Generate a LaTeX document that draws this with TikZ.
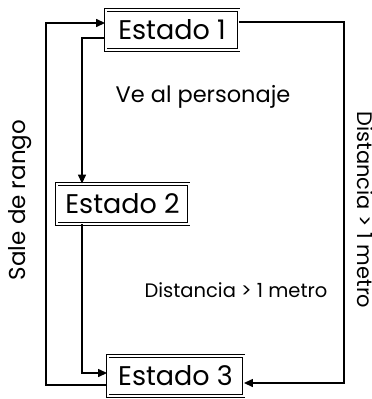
\documentclass[tikz,border=0pt]{standalone}
\usepackage{fontspec}
\setmainfont{Poppins}
\usetikzlibrary{arrows.meta,calc}
\begin{document}
\begin{tikzpicture}[x=1pt,y=-1pt,
  state/.style={draw,double,line width=0.9pt,double distance=2pt,inner sep=0pt,
    font=\fontsize{27}{30}\selectfont,minimum height=40pt},
  conn/.style={line width=1.4pt},
  arr/.style={conn,-{Triangle[length=9pt,width=8pt]}},
  lbl/.style={inner sep=0pt}]
\useasboundingbox (0,0) rectangle (372,399);
\node[state,minimum width=133pt] (e1) at (172,30) {Estado 1};
\node[state,minimum width=132pt] (e2) at (122.5,204) {Estado 2};
\node[state,minimum width=136pt] (e3) at (175.5,376) {Estado 3};
\coordinate (R) at (344,0);
\coordinate (L) at (46,0);
\coordinate (M) at (82,0);
\coordinate (e1r) at ([yshift=8pt]e1.east);
\coordinate (e3r) at ([yshift=-7pt]e3.east);
\coordinate (e3l) at ([yshift=-9pt]e3.west);
\coordinate (e1l) at ([yshift=7pt]e1.west);
\coordinate (e1m) at ([yshift=-8pt]e1.west);
\coordinate (e3m) at ([yshift=3pt]e3.west);
\draw[arr] (e1r) -- (R |- e1r) -- (R |- e3r) -- (e3r);
\draw[arr] (e3l) -- (L |- e3l) -- (L |- e1l) -- (e1l);
\draw[arr] (e1m) -- (M |- e1m) -- (M |- e2.north);
\draw[arr] (M |- e2.south) -- (M |- e3m) -- (e3m);
\node[lbl,font=\fontsize{22.5}{25}\selectfont] (t1) at (203,97) {Ve al personaje};
\node[lbl,font=\fontsize{19.5}{22}\selectfont] (t2) at (236,290) {Distancia > 1 metro};
\node[lbl,font=\fontsize{23}{26}\selectfont,rotate=90] (t3) at (20,200) {Sale de rango};
\node[lbl,font=\fontsize{21}{24}\selectfont,rotate=-90] (t4) at (365,210) {Distancia > 1 metro};
\end{tikzpicture}
\end{document}
